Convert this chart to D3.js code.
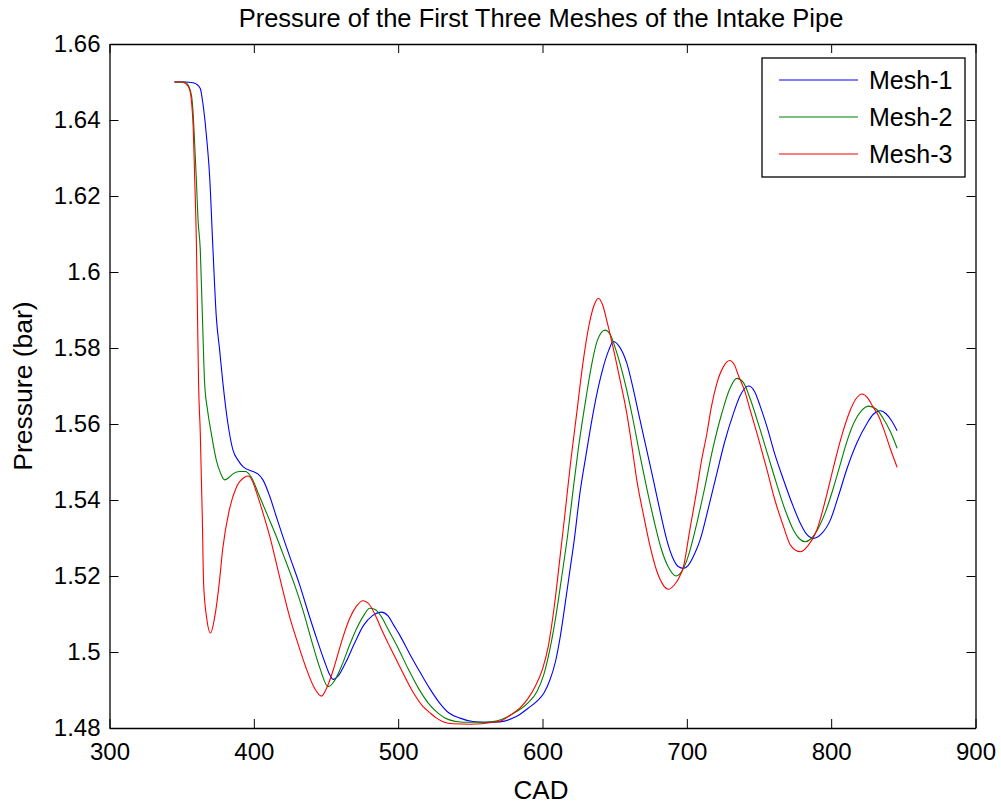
<!DOCTYPE html>
<html lang="en">
<head>
<meta charset="UTF-8">
<title>Pressure of the First Three Meshes of the Intake Pipe</title>
<script src="https://d3js.org/d3.v7.min.js"></script>
<style>
    body {margin: 0; background: white;}
    text {font-family: "Liberation Sans", Arial, sans-serif; fill: black;}
</style>
</head>
<body>
<svg id="main" width="1001" height="805"></svg>
<script>
    // [CAD, pressure (bar)]
    let mesh1 = [[345,1.650],[352,1.650],[358,1.6498],[360,1.6495],[362.9,1.6483],[364.7,1.6444],[367,1.6365],[369.4,1.625],
        [371.7,1.6058],[374,1.5882],[376.3,1.5795],[378.6,1.5707],[382,1.5602],[385.5,1.5532],[389,1.5505],[392.5,1.5488],
        [399.4,1.5475],[403,1.5468],[406.3,1.5453],[411,1.541],[415.6,1.5356],[420,1.5305],[424.9,1.5251],[431.8,1.5176],
        [438,1.510],[444,1.503],[449,1.4975],[452,1.4945],[454.9,1.4928],[459,1.494],[464,1.4975],[470,1.5025],[476,1.507],
        [482,1.5095],[488.4,1.5105],[493,1.5095],[497,1.507],[501,1.5045],[508,1.4995],[515,1.4948],[522,1.4903],[528.9,1.4865],
        [535,1.484],[542.8,1.4826],[551.8,1.4817],[560,1.4815],[570.5,1.4816],[579.5,1.4826],[584,1.4835],[590,1.4852],
        [596,1.4870],[601,1.4892],[605,1.4925],[609,1.4975],[612.5,1.5045],[616,1.5135],[619,1.5215],[622,1.5295],[626,1.542],
        [630,1.5515],[633,1.5584],[638,1.5685],[642.2,1.5751],[646,1.5795],[649,1.5817],[653,1.5805],[658.4,1.576],
        [663,1.569],[667.6,1.561],[672,1.5535],[676.8,1.5453],[681.5,1.537],[686.1,1.5295],[690,1.525],[694,1.5225],
        [697.7,1.522],[701,1.5228],[705,1.5255],[709.2,1.5295],[715,1.538],[720.8,1.547],[726,1.555],[732.3,1.5628],
        [737,1.5675],[742.7,1.570],[747,1.5685],[751,1.5645],[755.5,1.5593],[761,1.552],[767,1.5453],[773,1.539],
        [778.6,1.5339],[783,1.531],[787.8,1.5299],[793,1.531],[799.4,1.5347],[805,1.541],[811,1.5483],[818,1.5552],
        [824.9,1.5602],[829,1.5625],[834.1,1.5635],[838,1.5627],[842,1.5608],[845.7,1.5582]];
    let mesh2 = [[345,1.650],[352,1.650],[355,1.6488],[357,1.646],[357.8,1.6426],[359,1.6339],[360.1,1.625],[361.3,1.614],
        [362.9,1.6058],[364.4,1.588],[365.9,1.5707],[368,1.5635],[370.5,1.5576],[374,1.5505],[377,1.547],[379.8,1.5453],
        [383,1.546],[386,1.547],[390.2,1.5475],[394,1.5475],[398,1.5462],[404,1.5409],[410,1.5355],[416,1.530],[422,1.524],
        [428.3,1.5176],[434,1.511],[440,1.503],[446,1.4955],[451.4,1.4909],[456,1.4925],[461,1.4965],[466,1.5015],
        [471,1.506],[476,1.5095],[480.3,1.5115],[484,1.5112],[488,1.5095],[493,1.506],[500,1.501],[507,1.4955],
        [514,1.4905],[521,1.4865],[528,1.4838],[535,1.4822],[545,1.4815],[560,1.4815],[568,1.4818],[575,1.4828],
        [582,1.4843],[590,1.4866],[596,1.4895],[601,1.4942],[605,1.5005],[609,1.5088],[613,1.519],[617.5,1.531],
        [621,1.542],[625,1.554],[630,1.5665],[634,1.5755],[638,1.582],[643.3,1.5847],[647,1.5835],[650,1.5805],[654,1.5755],
        [658,1.5695],[662,1.5625],[667.6,1.5516],[672,1.5435],[677,1.535],[682,1.5275],[687,1.5225],[692.6,1.520],
        [697,1.5215],[702,1.5265],[707,1.534],[712,1.5425],[718,1.5535],[724,1.5625],[730,1.5695],[734.7,1.572],
        [739,1.571],[744,1.5665],[750,1.5595],[756,1.552],[762,1.5445],[768,1.5375],[774,1.532],[778,1.5298],
        [782,1.529],[786,1.5298],[791,1.5325],[796,1.5368],[801,1.5425],[806,1.549],[811,1.5555],[816,1.5605],
        [821,1.5635],[826,1.5647],[831,1.564],[836,1.5615],[841,1.558],[845.7,1.5536]];
    let mesh3 = [[345,1.650],[350,1.650],[353,1.6495],[355.5,1.648],[357,1.644],[358,1.638],[359,1.625],[360.3,1.6058],
        [361,1.588],[361.7,1.571],[362.9,1.5576],[364.3,1.5355],[365.2,1.518],[367.3,1.509],[370,1.505],[372.8,1.509],
        [376,1.518],[378.4,1.527],[383,1.5374],[388,1.5434],[393.6,1.546],[396,1.5463],[399,1.545],[402,1.5418],
        [406,1.537],[411,1.5305],[418,1.5195],[425,1.509],[430.4,1.5024],[436,1.496],[442,1.4905],[446.8,1.4884],
        [451,1.491],[456,1.4965],[461,1.503],[466,1.5085],[471,1.512],[475.7,1.5135],[480,1.5125],[485,1.509],
        [489,1.5055],[494.2,1.5014],[500,1.497],[505.8,1.4926],[511,1.489],[517.3,1.4856],[522,1.484],[526.6,1.4826],
        [532,1.4815],[538,1.4811],[550,1.481],[566,1.4815],[572,1.482],[578,1.4835],[584.4,1.4853],[590,1.4878],
        [595,1.491],[600,1.4955],[604,1.5015],[608,1.5115],[612,1.5245],[615.6,1.5365],[619.5,1.550],[623.7,1.5628],
        [628,1.576],[633,1.5874],[636,1.5915],[638.7,1.5931],[641.5,1.5915],[645,1.5865],[648,1.5817],[653.5,1.572],
        [658.4,1.5628],[662,1.554],[665.3,1.5453],[670,1.536],[674.6,1.5277],[679,1.5215],[683,1.518],[687.2,1.5165],
        [691,1.5175],[694.5,1.5195],[697.7,1.5225],[702,1.532],[706.9,1.5426],[710,1.550],[713.9,1.5575],[717,1.5645],
        [720.8,1.5707],[725.4,1.5751],[729.6,1.5767],[733,1.5755],[736,1.5725],[740,1.5688],[744,1.5635],[749,1.557],
        [755.5,1.548],[761,1.540],[767,1.533],[772,1.528],[778.6,1.5264],[784,1.528],[790.1,1.5321],[796,1.540],
        [801.7,1.5488],[807,1.5565],[813.3,1.5637],[817,1.5665],[821.4,1.5679],[825,1.567],[829,1.5645],[833,1.562],
        [837,1.558],[841,1.5535],[845.7,1.5486]];

    let seriesNames = ["Mesh-1", "Mesh-2", "Mesh-3"];
    let seriesColors = ["#0000ff", "#008000", "#ff0000"];
    let xTicks = [300, 400, 500, 600, 700, 800, 900];
    let yTicks = [1.48, 1.5, 1.52, 1.54, 1.56, 1.58, 1.6, 1.62, 1.64, 1.66];
    let yTickLabels = ["1.48", "1.5", "1.52", "1.54", "1.56", "1.58", "1.6", "1.62", "1.64", "1.66"];

    let svg = d3.select('svg#main');
    let box = {left: 109.5, right: 975.5, top: 44, bottom: 728};

    let x = d3.scaleLinear().domain([300, 900]).range([box.left, box.right]);
    let y = d3.scaleLinear().domain([1.48, 1.66]).range([box.bottom, box.top]);

    // lines
    let line = d3.line()
        .x(function (d) {return x(d[0])})
        .y(function (d) {return y(d[1])})
        .curve(d3.curveMonotoneX);
    let allSeries = [mesh1, mesh2, mesh3];
    svg.append('g').selectAll('path')
        .data(allSeries)
        .join('path')
        .attr('d', function (d) {return line(d)})
        .style('fill', 'none')
        .style('stroke', function (d, i) {return seriesColors[i]})
        .style('stroke-width', '1.1px');

    // axes, MATLAB style: inward ticks on all four sides
    let tickLen = 9;
    let fontSize = 24;
    let xAxis = svg.append('g')
        .attr('transform', 'translate(0,' + box.bottom + ')')
        .call(d3.axisBottom(x).tickValues(xTicks).tickSizeInner(-tickLen).tickSizeOuter(0).tickPadding(15));
    let yAxis = svg.append('g')
        .attr('transform', 'translate(' + box.left + ',0)')
        .call(d3.axisLeft(y).tickValues(yTicks).tickSizeInner(-tickLen).tickSizeOuter(0).tickPadding(9)
            .tickFormat(function (d, i) {return yTickLabels[i]}));
    let xTop = svg.append('g')
        .attr('transform', 'translate(0,' + box.top + ')')
        .call(d3.axisTop(x).tickValues(xTicks).tickSizeInner(-tickLen).tickSizeOuter(0).tickFormat(''));
    let yRight = svg.append('g')
        .attr('transform', 'translate(' + box.right + ',0)')
        .call(d3.axisRight(y).tickValues(yTicks).tickSizeInner(-tickLen).tickSizeOuter(0).tickFormat(''));
    svg.selectAll('.tick text').style('font-size', fontSize + 'px').attr('font-family', null);
    svg.selectAll('.domain').style('stroke', 'black').style('stroke-width', '1.3px');
    svg.selectAll('.tick line').style('stroke', 'black');

    // title and labels
    svg.append('text').attr('x', 541).attr('y', 27)
        .attr('text-anchor', 'middle').style('font-size', '25.5px')
        .text('Pressure of the First Three Meshes of the Intake Pipe');
    svg.append('text').attr('x', 541).attr('y', 799)
        .attr('text-anchor', 'middle').style('font-size', '26px')
        .text('CAD');
    svg.append('text').attr('transform', 'translate(32,386) rotate(-90)')
        .attr('text-anchor', 'middle').style('font-size', '26.5px')
        .text('Pressure (bar)');

    // legend
    let legend = svg.append('g').attr('transform', 'translate(762,58)');
    legend.append('rect').attr('width', 203).attr('height', 119)
        .style('fill', 'white').style('stroke', 'black').style('stroke-width', '1.3px');
    let entries = legend.selectAll('g.entry').data(seriesNames).join('g')
        .attr('class', 'entry')
        .attr('transform', function (d, i) {return 'translate(0,' + (22 + i * 37) + ')'});
    entries.append('line').attr('x1', 17).attr('x2', 96)
        .style('stroke', function (d, i) {return seriesColors[i]}).style('stroke-width', '1.1px');
    entries.append('text').attr('x', 107).attr('dy', '0.36em')
        .style('font-size', '25px')
        .text(function (d) {return d});
</script>
</body>
</html>
